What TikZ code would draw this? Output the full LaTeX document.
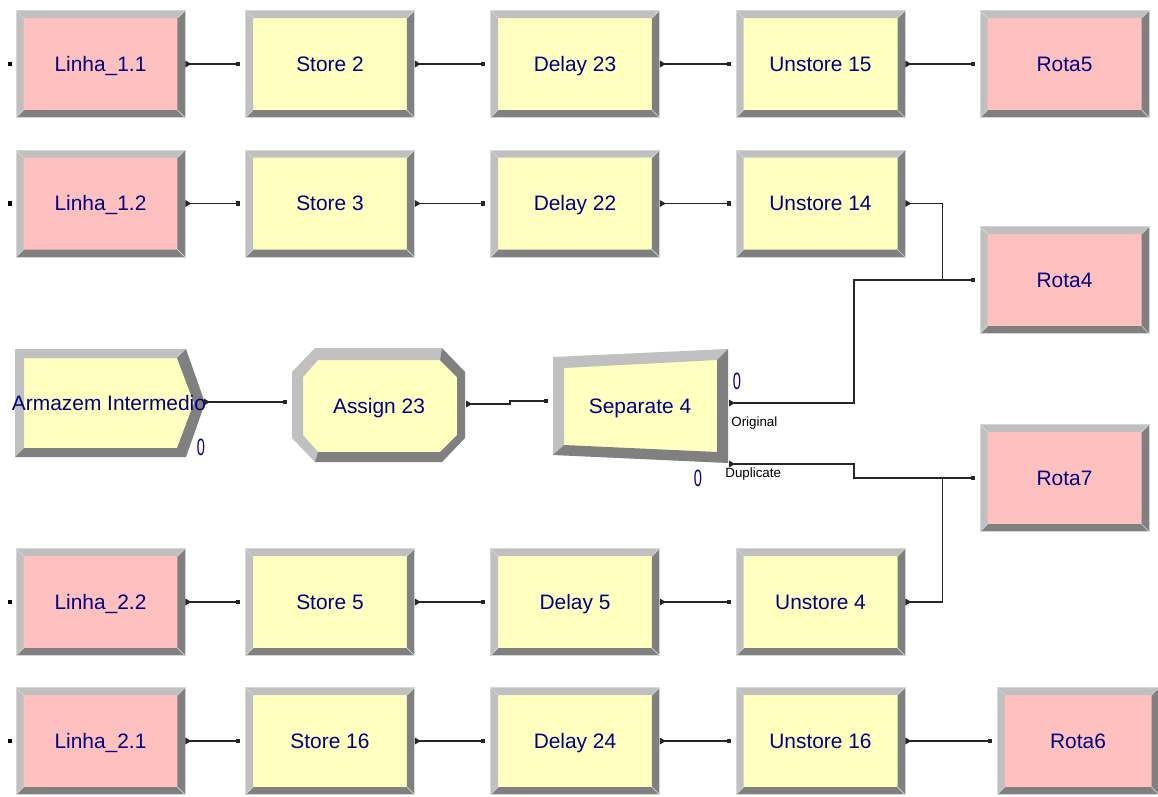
\documentclass[tikz,border=0pt]{standalone}
\usepackage{fontspec}
\setmainfont{Liberation Sans}
\usetikzlibrary{arrows.meta,
  calc,
  positioning
}

\definecolor{navyblue}{RGB}{0,0,128}
\definecolor{modpink}{RGB}{255,192,192}
\definecolor{modyellow}{RGB}{255,255,192}
\definecolor{bevlight}{RGB}{192,192,192}
\definecolor{bevdark}{RGB}{128,128,128}
\definecolor{bevedge}{RGB}{214,214,214}

\def\bevw{0.15cm}

\tikzset{
  module/.style={rectangle, draw=bevedge, line width=0.4pt, inner sep=0pt,
    minimum width=3.38cm, minimum height=2.14cm,
    text=navyblue, font=\fontsize{11.9}{14}\selectfont,
    text height=8.5pt, text depth=0pt,
    path picture={
      \coordinate (pp-nw) at (path picture bounding box.north west);
      \coordinate (pp-ne) at (path picture bounding box.north east);
      \coordinate (pp-sw) at (path picture bounding box.south west);
      \coordinate (pp-se) at (path picture bounding box.south east);
      \fill[bevlight] (pp-nw) -- (pp-ne) -- ([shift={(-\bevw,-\bevw)}]pp-ne)
        -- ([shift={(\bevw,-\bevw)}]pp-nw) -- ([shift={(\bevw,\bevw)}]pp-sw) -- (pp-sw) -- cycle;
      \fill[bevdark] (pp-se) -- (pp-ne) -- ([shift={(-\bevw,-\bevw)}]pp-ne)
        -- ([shift={(-\bevw,\bevw)}]pp-se) -- ([shift={(\bevw,\bevw)}]pp-sw) -- (pp-sw) -- cycle;
      \draw[bevedge, line width=0.4pt] (pp-nw) -- ++(\bevw,-\bevw) (pp-ne) -- ++(-\bevw,-\bevw)
        (pp-sw) -- ++(\bevw,\bevw) (pp-se) -- ++(-\bevw,\bevw);
    }},
  route/.style={module, fill=modpink},
  proc/.style={module, fill=modyellow},
  modtext/.style={text=navyblue, font=\fontsize{11.9}{14}\selectfont, inner sep=0pt,
    text height=8.5pt, text depth=0pt},
  flow/.style={black!85, line width=0.6pt,
    {Triangle[reversed,length=3.4pt,width=3.8pt]}-{Square[length=2.3pt,width=2.3pt]},
    shorten >=0.1cm},
  entry/.style={fill=black, minimum size=2.3pt, inner sep=0pt},
  count/.style={text=navyblue, font=\fontsize{13.4}{15}\selectfont, inner sep=0pt},
  exitlabel/.style={font=\fontsize{7.6}{9}\selectfont, inner sep=0pt}
}

\begin{document}
\begin{tikzpicture}[x=0.02cm, y=-0.02cm]
  \useasboundingbox (0,0) rectangle (1158,796);

  % first line
  \node[route] (l11) at (100.5,64) {Linha\_1.1};
  \node[proc] (s2) at (330,64) {Store 2};
  \node[proc] (d23) at (575,64) {Delay 23};
  \node[proc] (u15) at (820.5,64) {Unstore 15};
  \node[route] (r5) at (1064.5,64) {Rota5};

  % second line
  \node[route] (l12) at (100.5,203.5) {Linha\_1.2};
  \node[proc] (s3) at (330,203.5) {Store 3};
  \node[proc] (d22) at (575,203.5) {Delay 22};
  \node[proc] (u14) at (820.5,203.5) {Unstore 14};
  \node[route] (r4) at (1064.5,280) {Rota4};
  \node[route] (r7) at (1064.5,478) {Rota7};

  % lower lines
  \node[route] (l22) at (100.5,602) {Linha\_2.2};
  \node[proc] (s5) at (330,602) {Store 5};
  \node[proc] (d5) at (575,602) {Delay 5};
  \node[proc] (u4) at (820.5,602) {Unstore 4};

  \node[route] (l21) at (100.5,741) {Linha\_2.1};
  \node[proc] (s16) at (330,741) {Store 16};
  \node[proc] (d24) at (575,741) {Delay 24};
  \node[proc] (u16) at (820.5,741) {Unstore 16};
  \node[route, minimum width=3.24cm] (r6) at (1078,741) {Rota6};

  % create module
  \fill[modyellow] (15,349) -- (186,349) -- (205,403) -- (186,457) -- (15,457) -- cycle;
  \fill[bevlight] (15,457) -- (15,349) -- (186,349) -- (177,358) -- (24,358) -- (24,448) -- cycle;
  \fill[bevdark] (186,349) -- (205,403) -- (186,457) -- (15,457) -- (24,448) -- (177,448)
    -- (194,403) -- (177,358) -- cycle;
  \node[modtext] (arm) at (109,403) {Armazem Intermedio};
  \node[count] (arm-n) at (201,447) {\scalebox{0.62}[1]{0}};
  \coordinate (arm-out) at (204,402);

  % assign module
  \fill[modyellow] (315,348) -- (442,348) -- (465,372) -- (465,438) -- (442,462) -- (315,462)
    -- (292,438) -- (292,372) -- cycle;
  \fill[bevlight] (442,348) -- (315,348) -- (292,372) -- (292,438) -- (315,462) -- (318,452)
    -- (303,435) -- (303,377) -- (318,360) -- (440,360) -- cycle;
  \fill[bevdark] (442,348) -- (465,372) -- (465,438) -- (442,462) -- (315,462) -- (318,452)
    -- (440,452) -- (457,435) -- (457,377) -- (440,360) -- cycle;
  \node[modtext] (asg) at (379,406) {Assign 23};
  \coordinate (asg-in) at (292,402);
  \coordinate (asg-out) at (466,404);

  % separate module
  \fill[modyellow] (553,357) -- (728,349) -- (728,463) -- (553,455) -- cycle;
  \fill[bevlight] (553,455) -- (553,357) -- (728,349) -- (717,360) -- (564,368) -- (564,445) -- cycle;
  \fill[bevdark] (728,349) -- (728,463) -- (553,455) -- (564,445) -- (717,452) -- (717,360) -- cycle;
  \node[modtext] (sep) at (640,406) {Separate 4};
  \coordinate (sep-in) at (553,401);
  \coordinate (sep-orig) at (729,403);
  \coordinate (sep-dup) at (729,464);
  \node[count] (sep-n1) at (737,381) {\scalebox{0.62}[1]{0}};
  \node[count] (sep-n2) at (698,478) {\scalebox{0.62}[1]{0}};
  \node[exitlabel, anchor=west] (orig-lbl) at (731,423) {Original};
  \node[exitlabel, anchor=west] (dup-lbl) at (725,474) {Duplicate};

  % unconnected entry points
  \foreach \m in {l11,l12,l22,l21} {
    \node[entry, left=0.06cm of \m] (\m-in) {};
  }

  % connections
  \foreach \a/\b in {l11/s2,s2/d23,d23/u15,u15/r5,
                     l12/s3,s3/d22,d22/u14,
                     l22/s5,s5/d5,d5/u4,
                     l21/s16,s16/d24,d24/u16,u16/r6} {
    \draw[flow] (\a.east) -- (\b.west);
  }
  \draw[flow] (u14.east) -- ++(37,0) |- (r4.west);
  \draw[flow] (u4.east) -- ++(37,0) |- (r7.west);
  \draw[flow] (sep-orig) -- ++(125,0) |- (r4.west);
  \draw[flow] (sep-dup) -- ++(125,0) |- (r7.west);
  \draw[flow] (arm-out) -- (asg-in);
  \draw[flow] (asg-out) -- ++(44,0) |- (sep-in);
\end{tikzpicture}
\end{document}
